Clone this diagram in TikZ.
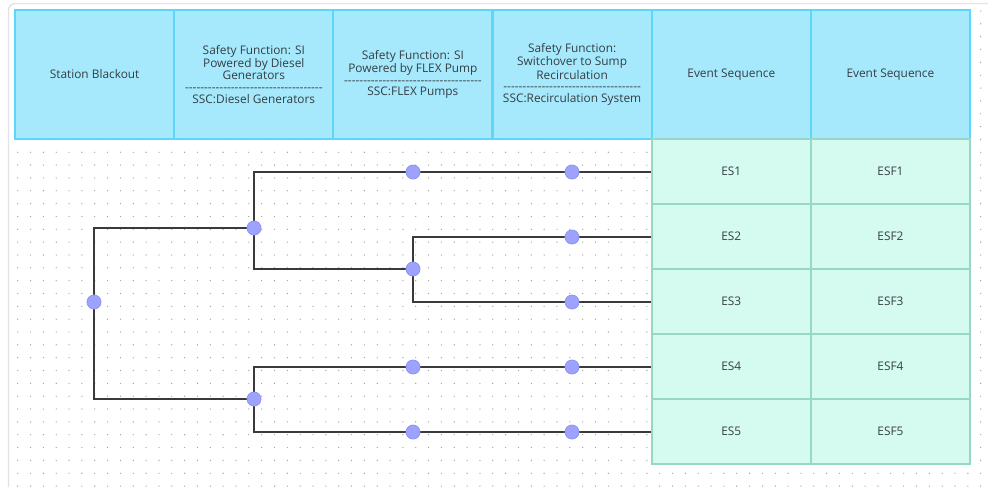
\documentclass[tikz,border=0pt]{standalone}
\usepackage{fontspec}
\newfontfamily\labelfont{Open Sans}
\definecolor{framegray}{RGB}{226,226,232}
\definecolor{dotgray}{RGB}{160,160,160}
\definecolor{headfill}{RGB}{166,233,252}
\definecolor{headline}{RGB}{92,214,250}
\definecolor{cellfill}{RGB}{213,250,240}
\definecolor{cellline}{RGB}{150,216,196}
\definecolor{txt}{RGB}{52,62,68}
\definecolor{linkcol}{RGB}{58,58,58}
\definecolor{jointfill}{RGB}{157,163,252}
\definecolor{jointline}{RGB}{140,147,246}
\newcommand{\dashline}{------------------------------------}
\begin{document}
\begin{tikzpicture}[x=0.75pt,y=-0.75pt,
  every node/.style={font=\labelfont\fontsize{8.9}{8.8}\selectfont, text=txt},
  headcell/.style={draw=headline, fill=headfill, line width=1.5pt,
    minimum width=119.375pt, minimum height=96.75pt, inner sep=0pt, align=center},
  evcell/.style={draw=cellline, fill=cellfill, line width=1.5pt,
    minimum width=119.375pt, minimum height=48.75pt, inner sep=0pt},
  joint/.style={circle, fill=jointfill, draw=jointline, line width=0.6pt,
    minimum size=10.5pt, inner sep=0pt},
  link/.style={draw=linkcol, line width=1.4pt}]
\useasboundingbox (0,0) rectangle (988,487);
\fill[white] (0,0) rectangle (988,487);
% canvas frame
\draw[framegray, line width=1.1pt, rounded corners=5pt] (8.5,487) |- (988,3.5);
% dotted grid
\foreach \i in {0,...,75}{
  \foreach \j in {0,...,37}{
    \fill[dotgray] (17.7+12.84*\i, 11+12.84*\j) circle (0.5pt);
  }
}
% header row
\node[headcell] (h1) at (94.6,74.5) {Station Blackout};
\node[headcell] (h2) at (253.8,74.5) {Safety Function: SI\\Powered by Diesel\\Generators\\\dashline\\SSC:Diesel Generators};
\node[headcell] (h3) at (412.9,74.5) {Safety Function: SI\\Powered by FLEX Pump\\\dashline\\SSC:FLEX Pumps};
\node[headcell] (h4) at (572.1,74.5) {Safety Function:\\Switchover to Sump\\Recirculation\\\dashline\\SSC:Recirculation System};
\node[headcell] (h5) at (731.3,74.5) {Event Sequence};
\node[headcell] (h6) at (890.4,74.5) {Event Sequence};
% event sequence cells
\foreach \k in {1,...,5}{
  \node[evcell] (es\k) at (731.3,106.5+65*\k) {ES\k};
  \node[evcell] (esf\k) at (890.4,106.5+65*\k) {ESF\k};
}
% branch points
\coordinate (r) at (94,302);
\coordinate (a) at (254,228);
\coordinate (b) at (254,399);
\coordinate (c) at (413,172);
\coordinate (d) at (572,172);
\coordinate (e) at (413,269);
\coordinate (f) at (572,237);
\coordinate (g) at (572,302);
\coordinate (h) at (413,367);
\coordinate (i) at (572,367);
\coordinate (j) at (413,432);
\coordinate (k) at (572,432);
% branches
\draw[link] (r) |- (a);
\draw[link] (r) |- (b);
\draw[link] (a) |- (c);
\draw[link] (a) |- (e);
\draw[link] (c) -- (d) -- (d -| es1.west);
\draw[link] (e) |- (f);
\draw[link] (e) |- (g);
\draw[link] (f) -- (f -| es2.west);
\draw[link] (g) -- (g -| es3.west);
\draw[link] (b) |- (h);
\draw[link] (b) |- (j);
\draw[link] (h) -- (i) -- (i -| es4.west);
\draw[link] (j) -- (k) -- (k -| es5.west);
% branch point markers
\foreach \p in {r,a,b,c,d,e,f,g,h,i,j,k}{
  \node[joint] (n\p) at (\p) {};
}
\end{tikzpicture}
\end{document}
